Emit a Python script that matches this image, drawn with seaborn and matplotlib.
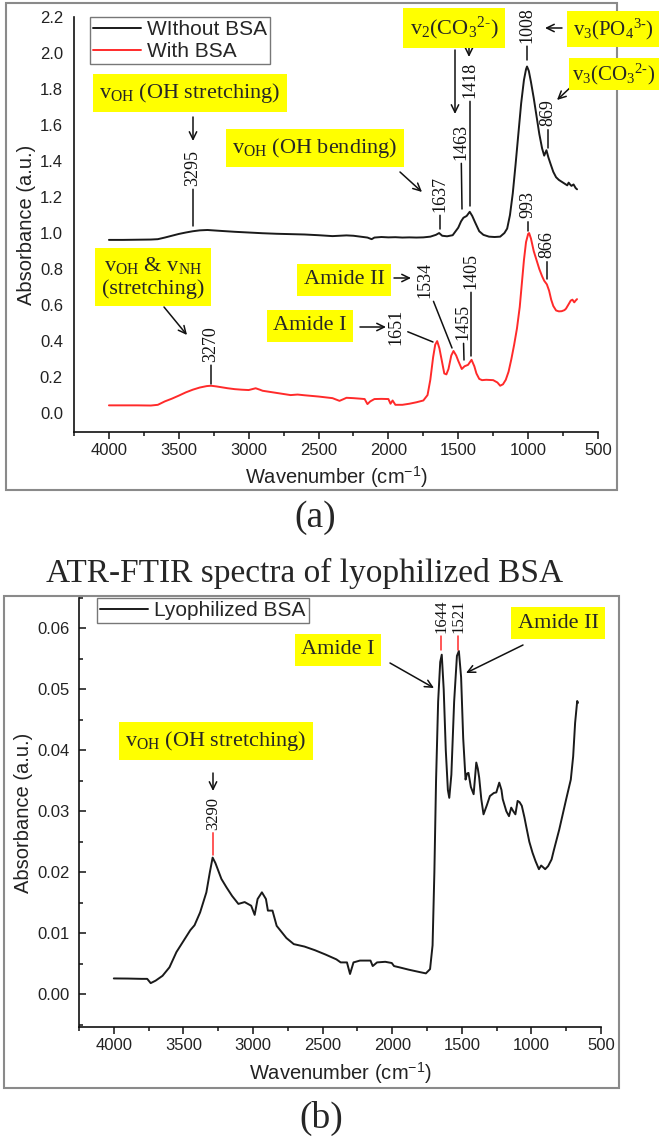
import numpy as np
import pandas as pd
import matplotlib
matplotlib.use("Agg")
import matplotlib.pyplot as plt
from matplotlib.patches import Rectangle
from matplotlib.ticker import MultipleLocator
import seaborn as sns

sns.set_theme(style="white")
plt.rcParams['font.family'] = ['Liberation Sans', 'DejaVu Sans']
plt.rcParams['mathtext.fontset'] = 'custom'
plt.rcParams['mathtext.rm'] = 'Liberation Serif'
plt.rcParams['mathtext.it'] = 'Liberation Serif:italic'
plt.rcParams['mathtext.bf'] = 'Liberation Serif:bold'
plt.rcParams['mathtext.sf'] = 'Liberation Sans'

# -------------------------------
# Data
# -------------------------------
# (a) hydroxyapatite without BSA
wn_without = [4000, 3900, 3800, 3700, 3650, 3600, 3550, 3500, 3450, 3400, 3350, 3295,
              3200, 3100, 3000, 2900, 2800, 2700, 2600, 2500, 2400, 2300, 2250, 2200,
              2150, 2120, 2100, 2050, 2000, 1950, 1900, 1850, 1800, 1750, 1700, 1660,
              1637, 1615, 1580, 1540, 1500, 1480, 1463, 1440, 1418, 1400, 1380, 1350,
              1320, 1280, 1240, 1200, 1170, 1150, 1130, 1110, 1090, 1070, 1050, 1030,
              1015, 1008, 995, 980, 960, 940, 920, 900, 885, 869, 855, 840, 820, 800,
              780, 760, 740, 720, 710, 700, 690, 675, 660, 650]
abs_without = [0.962, 0.962, 0.963, 0.964, 0.966, 0.975, 0.985, 0.995, 1.003, 1.010, 1.015, 1.017,
               1.012, 1.007, 1.003, 0.999, 0.996, 0.994, 0.992, 0.988, 0.983, 0.987, 0.985, 0.980,
               0.975, 0.966, 0.975, 0.978, 0.976, 0.977, 0.975, 0.976, 0.975, 0.976, 0.980, 0.990,
               1.000, 0.985, 0.982, 0.988, 1.030, 1.065, 1.085, 1.095, 1.118, 1.095, 1.060, 1.010,
               0.990, 0.980, 0.978, 0.980, 1.000, 1.025, 1.100, 1.220, 1.380, 1.550, 1.720, 1.850,
               1.910, 1.925, 1.900, 1.840, 1.750, 1.650, 1.550, 1.470, 1.430, 1.460, 1.420, 1.385,
               1.340, 1.310, 1.295, 1.285, 1.275, 1.265, 1.280, 1.270, 1.262, 1.270, 1.250, 1.243]

# (a) hydroxyapatite with BSA
wn_with = [4000, 3900, 3800, 3700, 3650, 3600, 3550, 3500, 3450, 3400, 3350, 3300, 3270,
           3230, 3150, 3100, 3050, 3000, 2950, 2920, 2900, 2800, 2700, 2650, 2600, 2500,
           2400, 2350, 2320, 2300, 2250, 2200, 2170, 2150, 2130, 2100, 2050, 2000, 1985,
           1970, 1950, 1900, 1850, 1800, 1750, 1720, 1700, 1680, 1665, 1651, 1635, 1620,
           1600, 1585, 1570, 1550, 1534, 1515, 1500, 1475, 1455, 1430, 1405, 1385, 1370,
           1350, 1330, 1300, 1250, 1220, 1200, 1180, 1160, 1140, 1120, 1100, 1080, 1060,
           1045, 1030, 1015, 1000, 993, 980, 960, 940, 920, 900, 885, 866, 850, 835, 820,
           800, 780, 760, 740, 729, 710, 695, 683, 670, 660, 650]
abs_with = [0.043, 0.043, 0.043, 0.042, 0.046, 0.065, 0.080, 0.097, 0.115, 0.130, 0.142, 0.150, 0.152,
            0.148, 0.138, 0.133, 0.130, 0.128, 0.138, 0.130, 0.124, 0.112, 0.100, 0.103, 0.099, 0.092,
            0.083, 0.068, 0.078, 0.085, 0.083, 0.080, 0.078, 0.050, 0.065, 0.078, 0.079, 0.078, 0.052,
            0.070, 0.046, 0.046, 0.052, 0.060, 0.070, 0.100, 0.185, 0.310, 0.380, 0.400, 0.360, 0.300,
            0.220, 0.215, 0.245, 0.320, 0.345, 0.320, 0.290, 0.245, 0.260, 0.268, 0.296, 0.260, 0.220,
            0.190, 0.183, 0.185, 0.183, 0.170, 0.152, 0.160, 0.185, 0.230, 0.300, 0.380, 0.470, 0.590,
            0.720, 0.850, 0.950, 0.995, 1.000, 0.970, 0.900, 0.850, 0.800, 0.760, 0.735, 0.715, 0.680,
            0.630, 0.595, 0.570, 0.565, 0.566, 0.572, 0.580, 0.605, 0.625, 0.630, 0.615, 0.625, 0.633]

# (b) lyophilized BSA
wn_bsa = [4000, 3900, 3800, 3760, 3735, 3700, 3650, 3600, 3550, 3500, 3450, 3420, 3380,
          3335, 3310, 3290, 3270, 3227, 3190, 3150, 3105, 3060, 3013, 2988, 2967, 2936,
          2907, 2893, 2860, 2830, 2760, 2707, 2630, 2555, 2480, 2401, 2370, 2325, 2303,
          2278, 2232, 2156, 2140, 2109, 2050, 2003, 1987, 1950, 1880, 1800, 1758, 1728,
          1710, 1697, 1685, 1670, 1655, 1644, 1630, 1615, 1600, 1590, 1575, 1555, 1535,
          1521, 1505, 1490, 1473, 1462, 1452, 1435, 1415, 1396, 1385, 1375, 1360, 1344,
          1320, 1298, 1270, 1252, 1231, 1215, 1206, 1180, 1161, 1145, 1130, 1115, 1099,
          1085, 1069, 1050, 1038, 1015, 992, 970, 946, 930, 915, 901, 880, 855, 840, 824,
          800, 778, 750, 717, 700, 686, 671, 665]
abs_bsa = [0.00257, 0.00255, 0.0025, 0.0025, 0.0018, 0.0022, 0.0030, 0.0044, 0.0069, 0.0087, 0.0105, 0.0113, 0.0134,
           0.0167, 0.0200, 0.0224, 0.0215, 0.0189, 0.0175, 0.0161, 0.0148, 0.0151, 0.0145, 0.0130, 0.0156, 0.0167,
           0.0156, 0.0137, 0.0137, 0.0112, 0.0092, 0.0082, 0.0078, 0.0072, 0.0065, 0.0057, 0.0052, 0.0052, 0.0033,
           0.0052, 0.0055, 0.0055, 0.0046, 0.0052, 0.0053, 0.0051, 0.0046, 0.0044, 0.0040, 0.0036, 0.0034, 0.0041,
           0.0080, 0.0200, 0.0350, 0.0480, 0.0545, 0.0557, 0.0500, 0.0400, 0.0335, 0.0322, 0.0360, 0.0480, 0.0555,
           0.0563, 0.0520, 0.0420, 0.0352, 0.0362, 0.0363, 0.0340, 0.0328, 0.0380, 0.0370, 0.0355, 0.0320, 0.0295,
           0.0310, 0.0325, 0.0330, 0.0331, 0.0347, 0.0335, 0.0320, 0.0300, 0.0292, 0.0306, 0.0300, 0.0295, 0.0317,
           0.0315, 0.0309, 0.0290, 0.0276, 0.0250, 0.0232, 0.0218, 0.0205, 0.0211, 0.0208, 0.0205, 0.0210, 0.0221,
           0.0235, 0.0249, 0.0270, 0.0292, 0.0320, 0.0352, 0.0390, 0.0445, 0.0481, 0.0478]

x_ticks = [4000, 3500, 3000, 2500, 2000, 1500, 1000, 500]

df_a = pd.concat([
    pd.DataFrame({'wn': wn_without, 'abs': abs_without, 'series': 'WIthout BSA'}),
    pd.DataFrame({'wn': wn_with, 'abs': abs_with, 'series': 'With BSA'}),
])
df_b = pd.DataFrame({'wn': wn_bsa, 'abs': abs_bsa, 'series': 'Lyophilized BSA'})

# -------------------------------
# Figure layout (pixel based)
# -------------------------------
W, H = 668, 1139
fig = plt.figure(figsize=(W / 100, H / 100), dpi=100)
fig.patch.set_facecolor('white')


def fp(x, y):
    # figure pixels measured from the top-left corner
    return (x, H - y)


def frame(x0, y0, x1, y1):
    fig.add_artist(Rectangle((x0 / W, 1 - y1 / H), (x1 - x0) / W, (y1 - y0) / H,
                             transform=fig.transFigure, fill=False,
                             ec='#8a8a8a', lw=1.5))


def add_ax(x0, y0, x1, y1):
    return fig.add_axes([x0 / W, 1 - y1 / H, (x1 - x0) / W, (y1 - y0) / H])


serif = 'Liberation Serif'


def ybox(text, x, y, size=16, pad=0.3):
    fig.text(x / W, 1 - y / H, text, ha='center', va='center', fontsize=size,
             family=serif, multialignment='center',
             bbox=dict(boxstyle='square,pad=%.2f' % pad, fc='#ffff00', ec='none'))


def arrow(ax, x0, y0, x1, y1):
    ax.annotate('', xy=fp(x1, y1), xycoords='figure pixels',
                xytext=fp(x0, y0), textcoords='figure pixels',
                arrowprops=dict(arrowstyle='->,head_length=0.45,head_width=0.22',
                                lw=1.1, color='#111', shrinkA=0, shrinkB=0),
                annotation_clip=False)


def peak(ax, label, tx, ty, lx, ly, size=13, lcolor='#111'):
    ax.annotate(label, xy=fp(lx, ly), xycoords='figure pixels',
                xytext=fp(tx, ty), textcoords='figure pixels',
                rotation=90, ha='center', va='center', fontsize=size, family=serif,
                color='#111',
                arrowprops=dict(arrowstyle='-', lw=1.1, color=lcolor,
                                shrinkA=0, shrinkB=0),
                annotation_clip=False)


def style_axes(ax):
    for s in ['top', 'right']:
        ax.spines[s].set_visible(False)
    for s in ['left', 'bottom']:
        ax.spines[s].set_color('#111')
        ax.spines[s].set_linewidth(1.2)
    ax.set_xlim(4250, 500)
    ax.set_xticks(x_ticks)
    ax.xaxis.set_minor_locator(MultipleLocator(250))
    ax.tick_params(axis='x', which='major', direction='out', length=5, width=1.1,
                   labelsize=12, pad=3, color='#111', labelcolor='#222', bottom=True)
    ax.tick_params(axis='x', which='minor', direction='out', length=3, width=1.1,
                   color='#111', bottom=True)
    ax.set_xlabel('Wavenumber (cm$^{\\mathsf{-1}}$)', fontsize=14.5, color='#222')
    ax.set_ylabel('Absorbance (a.u.)', fontsize=14.5, color='#222')
    ax.grid(False)
    ax.set_facecolor('white')


# -------------------------------
# Panel (a)
# -------------------------------
frame(6, 3, 617, 490)
ax_a = add_ax(74, 17, 598, 432)
sns.lineplot(data=df_a, x='wn', y='abs', hue='series',
             palette={'WIthout BSA': '#1a1a1a', 'With BSA': '#ff2a2a'},
             estimator=None, sort=False, lw=1.4, ax=ax_a)
style_axes(ax_a)
ax_a.set_ylim(-0.105, 2.2)
ax_a.set_yticks(np.arange(0, 2.21, 0.2))
ax_a.yaxis.set_major_formatter(matplotlib.ticker.FormatStrFormatter('%.1f'))
ax_a.tick_params(axis='y', length=0, labelsize=12, pad=8, labelcolor='#222')
ax_a.xaxis.set_label_coords(0.5, -0.078)
ax_a.yaxis.set_label_coords(-0.072, 0.5)
leg = ax_a.legend(loc='upper left', bbox_to_anchor=((90 - 74) / 524, 1.0), borderaxespad=0,
                  fontsize=15, frameon=True, fancybox=False, edgecolor='#555',
                  handlelength=2.3, handletextpad=0.3, labelspacing=0.15, borderpad=0.15)
leg.get_frame().set_linewidth(1.0)

ybox('v$_{\\mathrm{OH}}$ (OH stretching)', 190, 93)
ybox('v$_{\\mathrm{OH}}$ (OH bending)', 315, 148)
ybox('v$_2$(CO$_3{}^{2\\text{-}}$)', 454, 28)
ybox('v$_3$(PO$_4{}^{3\\text{-}}$)', 613, 29, size=15, pad=0.25)
ybox('v$_3$(CO$_3{}^{2\\text{-}}$)', 614, 74, size=15, pad=0.15)
ybox('v$_{\\mathrm{OH}}$ & v$_{\\mathrm{NH}}$\n(stretching)', 153, 277)
ybox('Amide II', 344, 280)
ybox('Amide I', 310, 326)

arrow(ax_a, 193, 117, 193, 141)
arrow(ax_a, 400, 172, 422, 192)
arrow(ax_a, 455, 50, 455, 114)
arrow(ax_a, 469, 45, 469, 57)
arrow(ax_a, 562, 28, 545, 28)
arrow(ax_a, 573, 85, 557, 100)
arrow(ax_a, 164, 307, 187, 335)
arrow(ax_a, 394, 278, 411, 278)
arrow(ax_a, 360, 327, 386, 327)

peak(ax_a, '3295', 193, 168, 193, 226)
peak(ax_a, '1637', 440, 194, 440, 229)
peak(ax_a, '1463', 461, 142, 462, 209)
peak(ax_a, '1418', 470, 80, 470, 206)
peak(ax_a, '1008', 527, 25, 527, 60)
peak(ax_a, '869', 548, 113, 548, 148)
peak(ax_a, '3270', 211, 344, 211, 384)
peak(ax_a, '1651', 396, 327, 433, 342)
peak(ax_a, '1534', 425, 280, 452, 348)
peak(ax_a, '1455', 463, 322, 464, 360)
peak(ax_a, '1405', 471, 271, 471, 356)
peak(ax_a, '993', 528, 205, 528, 231)
peak(ax_a, '866', 547, 245, 547, 279)

fig.text(315 / W, 1 - 518 / H, '(a)', ha='center', va='center', fontsize=27, family=serif)

# -------------------------------
# Panel (b)
# -------------------------------
fig.text(305 / W, 1 - 573 / H, 'ATR-FTIR spectra of lyophilized BSA', ha='center', va='center',
         fontsize=24, family=serif)
frame(4, 596, 619, 1088)
ax_b = add_ax(79, 598, 601, 1027)
sns.lineplot(data=df_b, x='wn', y='abs', hue='series', palette={'Lyophilized BSA': '#1a1a1a'},
             estimator=None, sort=False, lw=1.4, ax=ax_b)
style_axes(ax_b)
ax_b.set_ylim(-0.0054, 0.065)
ax_b.set_yticks(np.arange(0, 0.061, 0.01))
ax_b.yaxis.set_major_formatter(matplotlib.ticker.FormatStrFormatter('%.2f'))
ax_b.yaxis.set_minor_locator(MultipleLocator(0.005))
ax_b.tick_params(axis='y', which='major', direction='in', length=5, width=1.1, labelsize=12,
                 pad=7, color='#111', labelcolor='#222', left=True)
ax_b.tick_params(axis='y', which='minor', direction='in', length=3, width=1.1, color='#111', left=True)
ax_b.xaxis.set_label_coords(0.5, -0.079)
ax_b.yaxis.set_label_coords(-0.088, 0.5)
leg_b = ax_b.legend(loc='upper left', bbox_to_anchor=((97 - 79) / 522, 1.0), borderaxespad=0,
                    fontsize=15, frameon=True, fancybox=False, edgecolor='#555',
                    handlelength=2.3, handletextpad=0.3, borderpad=0.15)
leg_b.get_frame().set_linewidth(1.0)

ybox('v$_{\\mathrm{OH}}$ (OH stretching)', 216, 741)
ybox('Amide I', 338, 650)
ybox('Amide II', 558, 623)

arrow(ax_b, 213, 773, 213, 791)
arrow(ax_b, 390, 663, 434, 688)
arrow(ax_b, 523, 645, 466, 673)

peak(ax_b, '3290', 213, 813, 213, 855, size=12, lcolor='#ff2a2a')
peak(ax_b, '1644', 441, 616, 441, 650, size=12, lcolor='#ff2a2a')
peak(ax_b, '1521', 458, 616, 458, 650, size=12, lcolor='#ff2a2a')

fig.text(321 / W, 1 - 1118 / H, '(b)', ha='center', va='center', fontsize=27, family=serif)

fig.savefig('out.png', dpi=100, facecolor='white')
